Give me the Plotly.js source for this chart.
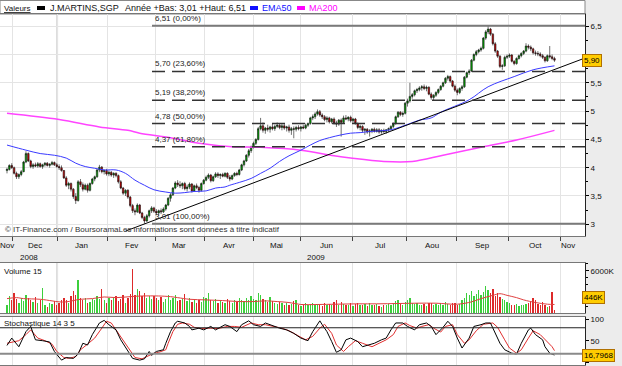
<!DOCTYPE html>
<html><head><meta charset="utf-8">
<script src="https://cdn.plot.ly/plotly-3.0.1.min.js"></script>
<style>html,body{margin:0;padding:0;background:#ececec}#chart{width:622px;height:366px}</style>
</head><body><div id="chart"></div>
<script>
// ---------- DATA ----------
const openP = [
3.95,3.97,4.04,4.00,3.90,3.84,3.88,3.93,4.10,4.25,
4.12,4.02,4.05,4.03,4.07,4.02,4.05,4.08,4.04,4.06,
4.09,4.05,4.02,4.00,3.95,3.82,3.69,3.72,3.62,3.49,
3.42,3.75,3.70,3.62,3.69,3.60,3.72,3.80,3.84,3.96,
4.01,3.93,3.95,3.89,3.92,3.87,3.90,3.86,3.75,3.64,
3.55,3.60,3.48,3.33,3.24,3.22,3.34,3.20,3.12,3.06,
3.15,3.24,3.29,3.23,3.20,3.24,3.22,3.27,3.34,3.46,
3.52,3.64,3.73,3.70,3.68,3.72,3.63,3.66,3.71,3.59,
3.68,3.65,3.60,3.72,3.78,3.83,3.87,3.77,3.84,3.89,
3.86,3.88,3.85,3.90,3.83,3.80,3.86,3.90,3.88,3.96,
4.05,4.12,4.22,4.30,4.37,4.43,4.50,4.69,4.74,4.66,
4.70,4.68,4.72,4.69,4.73,4.75,4.71,4.74,4.70,4.72,
4.66,4.69,4.68,4.71,4.69,4.72,4.70,4.75,4.78,4.88,
4.90,4.95,4.99,4.93,4.90,4.85,4.88,4.81,4.86,4.79,
4.77,4.84,4.80,4.88,4.86,4.89,4.83,4.86,4.78,4.71,
4.73,4.66,4.68,4.63,4.65,4.68,4.64,4.67,4.63,4.66,
4.64,4.67,4.69,4.73,4.78,4.90,4.98,4.94,4.96,5.14,
5.18,5.26,5.29,5.36,5.38,5.41,5.43,5.40,5.42,5.30,
5.24,5.28,5.33,5.38,5.44,5.50,5.58,5.61,5.53,5.44,
5.37,5.33,5.40,5.43,5.60,5.68,5.71,5.90,6.00,6.05,
6.08,6.11,6.29,6.40,6.45,6.36,6.19,6.06,5.97,5.79,
5.80,5.95,5.97,5.99,5.88,5.84,5.93,5.98,6.02,6.06,
6.15,6.13,6.10,6.03,6.02,6.01,5.98,5.95,5.89,5.98,5.96,5.93];
const highP = [
4.00,4.06,4.08,4.02,3.93,3.90,3.96,4.12,4.29,4.27,
4.14,4.08,4.09,4.10,4.09,4.07,4.10,4.10,4.08,4.12,
4.11,4.08,4.06,4.04,3.96,3.85,3.75,3.74,3.64,3.55,
3.78,3.80,3.74,3.72,3.72,3.74,3.82,3.86,3.98,4.05,
4.03,3.97,3.98,3.95,3.94,3.92,3.92,3.88,3.78,3.66,
3.62,3.62,3.50,3.36,3.28,3.37,3.36,3.22,3.15,3.18,
3.26,3.32,3.31,3.27,3.26,3.28,3.30,3.36,3.48,3.55,
3.66,3.76,3.78,3.76,3.74,3.75,3.70,3.74,3.73,3.70,
3.72,3.68,3.74,3.80,3.86,3.90,3.89,3.86,3.92,3.92,
3.90,3.91,3.92,3.92,3.87,3.88,3.92,3.93,3.98,4.07,
4.14,4.24,4.33,4.39,4.46,4.52,4.72,4.88,4.80,4.72,
4.76,4.74,4.78,4.76,4.80,4.78,4.77,4.78,4.74,4.76,
4.72,4.73,4.74,4.75,4.74,4.76,4.78,4.80,4.90,4.94,
4.98,5.03,5.02,4.96,4.93,4.91,4.90,4.88,4.89,4.83,
4.86,4.87,4.92,4.93,4.91,4.92,4.88,4.88,4.80,4.76,
4.75,4.70,4.70,4.68,4.70,4.71,4.70,4.70,4.68,4.69,
4.68,4.71,4.75,4.80,4.92,5.00,5.00,4.99,5.16,5.22,
5.50,5.32,5.38,5.41,5.44,5.46,5.47,5.45,5.44,5.33,
5.30,5.35,5.40,5.46,5.52,5.60,5.64,5.63,5.55,5.47,
5.40,5.42,5.46,5.62,5.70,5.74,5.92,6.02,6.08,6.10,
6.14,6.31,6.43,6.51,6.47,6.38,6.22,6.08,5.99,5.83,
5.98,6.00,6.02,6.01,5.90,5.95,6.00,6.04,6.08,6.20,
6.18,6.16,6.12,6.07,6.06,6.04,6.01,5.97,6.00,6.15,6.00,5.96];
const lowP = [
3.90,3.95,3.98,3.88,3.80,3.80,3.85,3.92,4.08,4.10,
3.99,3.98,4.01,4.00,4.00,3.98,4.02,4.02,4.00,4.04,
4.03,4.00,3.96,3.93,3.80,3.66,3.62,3.58,3.45,3.36,
3.40,3.66,3.58,3.60,3.56,3.58,3.70,3.76,3.82,3.92,
3.90,3.88,3.86,3.85,3.84,3.82,3.83,3.72,3.62,3.52,
3.50,3.45,3.30,3.20,3.16,3.20,3.18,3.09,3.01,3.04,
3.12,3.20,3.20,3.16,3.15,3.18,3.20,3.24,3.32,3.40,
3.50,3.62,3.66,3.64,3.62,3.60,3.58,3.62,3.56,3.57,
3.62,3.56,3.58,3.70,3.76,3.80,3.74,3.75,3.82,3.82,
3.80,3.83,3.83,3.80,3.76,3.78,3.84,3.85,3.86,3.94,
4.02,4.10,4.18,4.26,4.34,4.40,4.48,4.66,4.62,4.60,
4.64,4.62,4.66,4.65,4.70,4.68,4.66,4.67,4.64,4.62,
4.58,4.52,4.64,4.66,4.64,4.68,4.68,4.72,4.76,4.84,
4.86,4.92,4.90,4.86,4.82,4.80,4.78,4.78,4.76,4.72,
4.74,4.55,4.78,4.84,4.82,4.80,4.79,4.76,4.68,4.66,
4.62,4.58,4.60,4.55,4.61,4.62,4.62,4.60,4.60,4.61,
4.60,4.63,4.66,4.70,4.76,4.88,4.91,4.90,4.94,5.08,
5.15,5.22,5.26,5.32,5.35,5.36,5.37,5.35,5.28,5.20,
5.19,5.25,5.30,5.36,5.42,5.48,5.54,5.50,5.42,5.34,
5.28,5.30,5.36,5.41,5.58,5.64,5.69,5.88,5.97,6.02,
6.05,6.09,6.26,6.36,6.33,6.16,6.03,5.94,5.76,5.73,
5.78,5.92,5.94,5.86,5.81,5.82,5.91,5.95,5.99,6.04,
6.09,6.06,6.00,5.98,5.97,5.95,5.92,5.86,5.87,5.93,5.90,5.87];
const closeP = [
3.97,4.04,4.00,3.90,3.84,3.88,3.93,4.10,4.25,4.12,
4.02,4.05,4.03,4.07,4.02,4.05,4.08,4.04,4.06,4.09,
4.05,4.02,4.00,3.95,3.82,3.69,3.72,3.62,3.49,3.42,
3.75,3.70,3.62,3.69,3.60,3.72,3.80,3.84,3.96,4.01,
3.93,3.95,3.89,3.92,3.87,3.90,3.86,3.75,3.64,3.55,
3.60,3.48,3.33,3.24,3.22,3.34,3.20,3.12,3.06,3.15,
3.24,3.29,3.23,3.20,3.24,3.22,3.27,3.34,3.46,3.52,
3.64,3.73,3.70,3.68,3.72,3.63,3.66,3.71,3.59,3.68,
3.65,3.60,3.72,3.78,3.83,3.87,3.77,3.84,3.89,3.86,
3.88,3.85,3.90,3.83,3.80,3.86,3.90,3.88,3.96,4.05,
4.12,4.22,4.30,4.37,4.43,4.50,4.69,4.74,4.66,4.70,
4.68,4.72,4.69,4.73,4.75,4.71,4.74,4.70,4.72,4.66,
4.69,4.68,4.71,4.69,4.72,4.70,4.75,4.78,4.88,4.90,
4.95,4.99,4.93,4.90,4.85,4.88,4.81,4.86,4.79,4.77,
4.84,4.80,4.88,4.86,4.89,4.83,4.86,4.78,4.71,4.73,
4.66,4.68,4.63,4.65,4.68,4.64,4.67,4.63,4.66,4.64,
4.67,4.69,4.73,4.78,4.90,4.98,4.94,4.96,5.14,5.18,
5.26,5.29,5.36,5.38,5.41,5.43,5.40,5.42,5.30,5.24,
5.28,5.33,5.38,5.44,5.50,5.58,5.61,5.53,5.44,5.37,
5.33,5.40,5.43,5.60,5.68,5.71,5.90,6.00,6.05,6.08,
6.11,6.29,6.40,6.45,6.36,6.19,6.06,5.97,5.79,5.80,
5.95,5.97,5.99,5.88,5.84,5.93,5.98,6.02,6.06,6.15,
6.13,6.10,6.03,6.02,6.01,5.98,5.95,5.89,5.98,5.96,5.93,5.90];
const volumeK = [
1200,2400,1800,2900,2000,1500,2200,1700,2600,2100,
1900,1600,2300,1400,1800,3500,1200,900,1500,1300,
1700,1100,1400,1800,2200,1900,1500,2400,3100,2500,
4700,2200,1900,2200,1400,1600,2000,1800,2400,2000,
3400,1800,1500,2200,1900,2100,2400,1700,2000,2600,
1500,2200,2700,6300,2500,3450,3100,2400,2800,2200,
2400,2000,2400,2100,1800,2300,1600,2000,2500,1800,
2200,2600,1700,1900,2000,2650,1700,2100,1600,1800,
1400,1900,1600,2300,2100,2800,1900,1700,2000,1500,
1800,1600,1400,2000,1700,1500,1900,1600,2100,1800,
1700,2200,1900,2400,2000,1800,2900,2500,2000,1800,
1600,2300,1700,1500,1300,1600,1400,1200,1500,1100,
1300,1700,1900,1200,1000,1100,1400,1200,1300,1500,
1100,1300,1200,1000,1400,1100,1300,1200,1600,1800,
1200,1600,1300,1100,1200,1400,1000,1300,1500,1200,
1100,1300,1000,1400,1100,1200,1300,1000,900,1200,
1100,1300,1200,1500,1700,1800,1300,1200,1600,1900,
2200,1400,1300,1500,1200,1100,1300,1000,1500,1400,
1200,1300,1100,1400,1200,1600,1300,1200,1500,1400,
1100,1300,1800,2200,2900,2600,3100,2400,2700,3250,
2500,3000,3900,3300,2800,3360,2400,2900,2300,2000,
1800,1600,1400,1200,1100,1300,1000,1200,1100,1300,
1500,1700,2200,1900,1300,1100,1600,1200,900,1000,3000,446];

const volMaDay = [0,4,7,14,19,22,25,31,36,41,46,52,57,64,69,72,77,84,91,98,104,109,114,119,124,131,139,148,156,165,173,181,190,196,200,205,208,211,215,218,223,228,231];
const volMaK   = [2055,2195,2055,1960,1730,1590,1590,1960,2055,2290,2195,2335,2430,2430,2335,2195,1960,1870,1775,1635,1635,1730,1635,1495,1215,1215,1260,1310,1310,1355,1400,1400,1260,1590,2055,2520,2755,2520,2195,1870,1495,1260,1215];

const emaDay = [0,8,14,20,25,29,33,37,41,46,50,54,58,62,67,71,75,79,84,88,92,94,98,103,107,111,115,119,124,128,132,136,141,145,149,153,157,162,166,170,174,179,183,195,203,214,222,231];
const emaVal = [4.40,4.31,4.25,4.22,4.17,4.08,4.02,3.99,3.96,3.96,3.90,3.78,3.69,3.61,3.57,3.55,3.56,3.58,3.59,3.64,3.66,3.69,3.74,3.81,3.90,3.99,4.11,4.21,4.31,4.40,4.48,4.53,4.58,4.61,4.62,4.64,4.65,4.67,4.72,4.78,4.84,4.88,4.98,5.20,5.43,5.61,5.73,5.80];

const ma200Day = [0,22,39,51,56,69,81,95,107,124,138,145,159,171,184,201,215,231];
const ma200Val = [4.96,4.85,4.72,4.66,4.61,4.53,4.43,4.37,4.36,4.31,4.21,4.17,4.11,4.11,4.22,4.37,4.49,4.66];

const trendDay = [50, 244];
const trendVal = [2.88, 5.94];

const stochKDay = [0,2,5,6,8,10,12,15,18,20,23,25,28,30,32,34,36,39,41,43,46,48,51,53,56,58,60,61,63,66,67,69,71,72,75,77,78,81,83,86,88,91,92,94,97,99,102,104,107,109,113,115,118,121,124,127,129,132,133,135,137,139,141,143,145,148,150,153,155,158,160,162,164,167,169,172,174,177,179,181,184,186,188,190,192,195,197,200,202,204,206,208,210,213,215,217,220,221,223,226,227,229,231];
const stochK    = [39,56,36,48,71,83,52,50,47,25,5,11,9,19,44,40,64,91,97,87,75,52,25,9,5,8,25,16,25,29,44,71,91,95,91,83,75,79,75,83,75,83,87,83,71,87,96,87,83,91,83,79,75,67,56,50,71,96,87,71,48,23,29,52,56,48,36,40,44,52,56,75,91,91,83,75,87,91,83,64,81,95,83,56,33,56,83,87,91,91,67,44,29,21,19,44,75,79,64,52,36,21,16.7968];
const stochDDay = [0,3,5,8,10,13,16,19,21,24,26,29,31,34,37,40,42,44,46,49,52,54,57,59,62,64,67,68,70,72,74,77,79,82,86,89,93,96,99,103,106,109,113,116,119,123,126,129,132,134,137,139,142,144,147,150,154,157,160,163,165,168,170,173,175,178,180,183,185,188,190,193,195,198,201,205,207,210,212,215,217,220,222,225,227,230,231];
const stochD    = [44,47,50,64,75,56,50,42,25,11,9,13,29,42,56,79,95,91,75,48,25,11,8,13,21,23,29,44,71,88,91,88,81,78,79,78,83,83,81,91,87,87,83,79,73,60,52,60,79,88,67,40,25,36,50,44,36,44,52,64,83,91,85,79,83,87,79,70,83,87,64,44,52,73,88,91,81,52,33,21,29,56,73,64,52,36,27];

const fibLevels = [6.51, 5.70, 5.19, 4.78, 4.37, 3.01];
const fibLabels = ['6,51 (0,00%)','5,70 (23,60%)','5,19 (38,20%)','4,78 (50,00%)','4,37 (61,80%)','3,01 (100,00%)'];
const monthNames = ['Nov','Dec','Jan','Fev','Mar','Avr','Mai','Jun','Jul','Aou','Sep','Oct','Nov'];
const yearNames = ['2008','2009'];
const priceTicks = [3,3.5,4,4.5,5,5.5,6,6.5];
const priceTickText = ['3','3,5','4','4,5','5','5,5','','6,5'];   // "6" is hidden behind the last-price box

// ---------- LAYOUT HELPERS ----------
const W = 622, H = 366, PR = 585;           // plot right edge in px
const X0 = 7, PXD = 2.37;                    // day index -> px
const d = px => (px - X0) / PXD;
const py = p => 1 - p / H;
const dom = (top, bot) => [1 - bot / H, 1 - top / H];
const px = p => p / PR;
const xr = [d(0), d(PR)];
const monthStartPx = [12.3,57.3,107,155,204,253,300,352.3,406.7,456.7,508.3,560];
const monthLabelPx = [6.7,34.7,81.7,131,179,229,276.7,326.7,380,431.7,482.7,535,568.3];
const FONT = 'Liberation Sans, Arial, sans-serif';
const days = closeP.map((_, i) => i);
const fmt = (v, n) => v.toFixed(n).replace('.', ',');

const up = closeP.map((c, i) => c >= openP[i]);

const traces = [
  {type:'candlestick', x:days, open:openP, high:highP, low:lowP, close:closeP,
   xaxis:'x', yaxis:'y', whiskerwidth:0,
   increasing:{line:{color:'#111', width:0.6}, fillcolor:'#00a800'},
   decreasing:{line:{color:'#111', width:0.6}, fillcolor:'#cc0000'},
   hoverinfo:'skip', showlegend:false},
  {type:'scatter', mode:'lines', x:ma200Day, y:ma200Val, xaxis:'x', yaxis:'y',
   line:{color:'#ff44ff', width:1.5, shape:'spline'}, hoverinfo:'skip', showlegend:false},
  {type:'scatter', mode:'lines', x:emaDay, y:emaVal, xaxis:'x', yaxis:'y',
   line:{color:'#3a3aff', width:1, shape:'spline'}, hoverinfo:'skip', showlegend:false},
  {type:'scatter', mode:'lines', x:trendDay, y:trendVal, xaxis:'x', yaxis:'y',
   line:{color:'#000', width:1}, hoverinfo:'skip', showlegend:false},
  {type:'bar', x:days, y:volumeK.map(v => v * 1000), xaxis:'x2', yaxis:'y2', width:0.55,
   marker:{color:up.map(u => u ? '#3ccf3c' : '#dd2a2a'), line:{width:0}},
   hoverinfo:'skip', showlegend:false},
  {type:'scatter', mode:'lines', x:volMaDay, y:volMaK.map(v => v * 1000), xaxis:'x2', yaxis:'y2',
   line:{color:'#e04040', width:1, shape:'spline'}, hoverinfo:'skip', showlegend:false},
  {type:'scatter', mode:'lines', x:stochDDay, y:stochD, xaxis:'x3', yaxis:'y3',
   line:{color:'#e03030', width:1}, hoverinfo:'skip', showlegend:false},
  {type:'scatter', mode:'lines', x:stochKDay, y:stochK, xaxis:'x3', yaxis:'y3',
   line:{color:'#000', width:1}, hoverinfo:'skip', showlegend:false}
];

const gridC = '#e4e4e4';
const baseX = {range:xr, tickvals:monthStartPx.map(d), ticktext:monthStartPx.map(() => ''),
  showgrid:true, gridcolor:gridC, zeroline:false, showline:true, linecolor:'#777', mirror:true,
  fixedrange:true, rangeslider:{visible:false}};

const shapes = [];
shapes.push({type:'rect', xref:'paper', yref:'paper', x0:0, x1:1, y0:py(14), y1:py(0.5),
  fillcolor:'#ffffff', line:{color:'#888', width:1}, layer:'below'});
[['x','y domain'],['x2','y2 domain'],['x3','y3 domain']].forEach(([xa, ya]) =>
  shapes.push({type:'line', xref:xa, yref:ya, x0:d(57.3), x1:d(57.3), y0:0, y1:1,
    line:{color:'#b4b4b4', width:1.5}, layer:'below'}));
fibLevels.forEach((lv, k) => {
  const solid = (k === 0 || k === fibLevels.length - 1);
  shapes.push({type:'line', xref:'x', yref:'y', x0:d(152), x1:xr[1], y0:lv, y1:lv,
    line:{color: solid ? '#7a7a7a' : '#333', width: solid ? 2 : 1.5, dash: solid ? 'solid' : '13px,7px'}});
});
shapes.push({type:'line', xref:'x3 domain', yref:'y3', x0:0, x1:1, y0:80, y1:80, line:{color:'#222', width:1.2}});
shapes.push({type:'line', xref:'x3 domain', yref:'y3', x0:0, x1:1, y0:20, y1:20, line:{color:'#8a8a8a', width:2}});
[[37,'#000'],[250,'#1010ff'],[297,'#ff00ff']].forEach(([x, c]) =>
  shapes.push({type:'rect', xref:'paper', yref:'paper', x0:px(x), x1:px(x + 8), y0:py(10), y1:py(6),
    fillcolor:c, line:{width:0}}));

const ann = [];
const txt = (text, x, y, o = {}) => ann.push(Object.assign({text, xref:'paper', yref:'paper',
  x:px(x), y:py(y), xanchor:'left', yanchor:'middle', showarrow:false,
  font:{family:FONT, size:8, color:'#111'}}, o));
txt('<u>Valeurs</u>', 2, 8);
txt('J.MARTINS,SGP', 48, 8, {font:{family:FONT, size:9, color:'#111'}});
txt('Année +Bas: 3,01 +Haut: 6,51', 123, 8, {font:{family:FONT, size:9, color:'#111'}});
txt('EMA50', 260, 8, {font:{family:FONT, size:9, color:'#1010ff'}});
txt('MA200', 307, 8, {font:{family:FONT, size:9, color:'#ff00ff'}});
txt('© IT-Finance.com / BoursoramaLes informations sont données à titre indicatif', 3, 229, {font:{family:FONT, size:8, color:'#333'}});
monthNames.forEach((m, k) => ann.push({text:m, xref:'x', yref:'paper', x:d(monthLabelPx[k]), y:py(245),
  xanchor:'center', yanchor:'middle', showarrow:false, font:{family:FONT, size:8, color:'#111'}}));
txt(yearNames[0], 29, 257, {xanchor:'center'});
txt(yearNames[1], 316, 257, {xanchor:'center'});
txt('Volume 15', 2, 271);
txt('Stochastique 14 3 5', 2, 323);
fibLevels.forEach((lv, k) => ann.push({text:fibLabels[k], xref:'x', yref:'y', x:d(153), y:lv,
  xanchor:'left', yanchor:'bottom', yshift:1, showarrow:false, font:{family:FONT, size:8, color:'#222'}}));
const boxS = {bgcolor:'#ffcc00', bordercolor:'#b07000', borderwidth:1, borderpad:1,
  font:{family:FONT, size:8, color:'#000'}};
ann.push(Object.assign({text:fmt(closeP[closeP.length - 1], 2), xref:'paper', yref:'y', x:px(582),
  y:closeP[closeP.length - 1], xanchor:'left', yanchor:'middle', showarrow:false}, boxS));
ann.push(Object.assign({text:volumeK[volumeK.length - 1] + 'K', xref:'paper', yref:'paper', x:px(582),
  y:py(297.5), xanchor:'left', yanchor:'middle', showarrow:false}, boxS));
ann.push(Object.assign({text:fmt(stochK[stochK.length - 1], 4), xref:'paper', yref:'y3', x:px(582),
  y:stochK[stochK.length - 1], xanchor:'left', yanchor:'middle', showarrow:false}, boxS));

const tf = {family:FONT, size:8, color:'#111'};
const layout = {
  width:W, height:H, margin:{l:0, r:W - PR, t:0, b:0, pad:0},
  paper_bgcolor:'#ececec', plot_bgcolor:'#ffffff', separators:', ',
  font:{family:FONT, size:8, color:'#111'}, showlegend:false, dragmode:false, boxgap:0.1,
  xaxis:Object.assign({}, baseX, {anchor:'y', ticks:'outside', ticklen:4, tickcolor:'#444', showticklabels:false}),
  xaxis2:Object.assign({}, baseX, {anchor:'y2', matches:'x', ticks:'', showticklabels:false}),
  xaxis3:Object.assign({}, baseX, {anchor:'y3', matches:'x', ticks:'', showticklabels:false}),
  yaxis:{domain:dom(14, 236), range:[2.793, 6.716], side:'right', anchor:'x', tickvals:priceTicks,
    ticktext:priceTickText,
    ticks:'outside', ticklen:3, tickcolor:'#000', tickfont:tf, showgrid:true, gridcolor:gridC,
    zeroline:false, showline:true, linecolor:'#222', mirror:true, fixedrange:true,
    minor:{tickvals:[3.25,3.75,4.25,4.75,5.25,5.75,6.25], ticks:'outside', ticklen:2, tickcolor:'#000', showgrid:false}},
  yaxis2:{domain:dom(263, 313), range:[0, 7.14e6], side:'right', anchor:'x2', tickvals:[2e6, 6e6],
    ticktext:['','6000K'], ticks:'outside', ticklen:3, tickcolor:'#000', tickfont:tf, showgrid:false,
    zeroline:false, showline:true, linecolor:'#222', mirror:true, fixedrange:true,
    minor:{tickvals:[1e6,3e6,4e6,5e6,7e6], ticks:'outside', ticklen:2, tickcolor:'#000'}},
  yaxis3:{domain:dom(316.5, 365), range:[-6.3, 106], side:'right', anchor:'x3', tickvals:[0,50,100],
    ticks:'outside', ticklen:3, tickcolor:'#000', tickfont:tf, showgrid:false, zeroline:false,
    showline:true, linecolor:'#222', mirror:true, fixedrange:true},
  shapes:shapes, annotations:ann, bargap:0
};

Plotly.newPlot('chart', traces, layout, {staticPlot:true, displayModeBar:false});
</script></body></html>
